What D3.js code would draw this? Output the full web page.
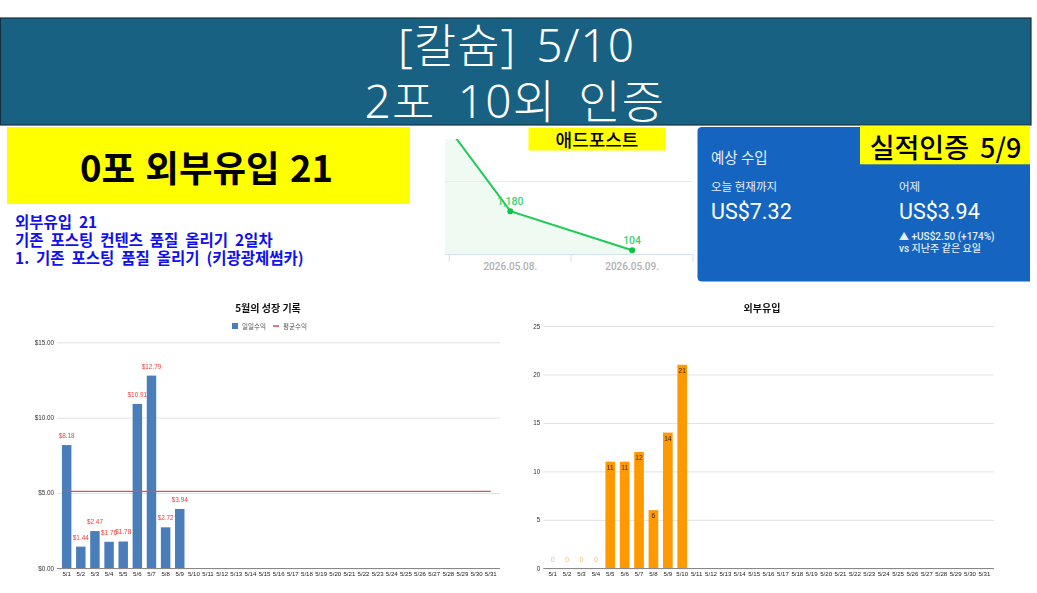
<!DOCTYPE html>
<html><head><meta charset="utf-8">
<script src="https://cdn.jsdelivr.net/npm/d3@7"></script>
<style>html,body{margin:0;padding:0;background:#fff;overflow:hidden}svg{display:block}
text{font-family:"Noto Sans CJK KR","Noto Sans",sans-serif}
.num{font-family:Roboto,"Noto Sans CJK KR",sans-serif}
.lat{font-family:"Liberation Sans","Noto Sans CJK KR",sans-serif}
.hd{font-family:"Noto Sans","Noto Sans CJK KR",sans-serif}</style>
</head><body><svg id="c" width="1037" height="593"></svg>
<script>
const headerLines = ["[칼슘] 5/10", "2포 10외 인증"];
const bannerText = "0포 외부유입 21";
const noteLines = ["외부유입 21", "기존 포스팅 컨텐츠 품질 올리기 2일차", "1. 기존 포스팅 품질 올리기 (키광광제썸카)"];
const adDates = ["2026.05.07.", "2026.05.08.", "2026.05.09."];
const adValues = [5700, 1180, 104];
const adTicks = [0, 2000];
const days = d3.range(1, 32).map(d => "5/" + d);
const incomeValues = [8.18, 1.44, 2.47, 1.76, 1.78, 10.91, 12.79, 2.72, 3.94];
const incomeAverage = 5.11;
const incomeTicks = [0, 5, 10, 15];
const trafficValues = [0, 0, 0, 0, 11, 11, 12, 6, 14, 21];
const trafficTicks = [0, 5, 10, 15, 20, 25];

const svg = d3.select("#c");
const defs = svg.append("defs");
defs.append("filter").attr("id","soft").attr("x","-5%").attr("y","-5%").attr("width","110%").attr("height","110%")
  .append("feGaussianBlur").attr("stdDeviation",0.35);
defs.append("clipPath").attr("id","adClip").append("rect").attr("x",445).attr("y",139).attr("width",248).attr("height",116);

function txt(g,x,y,s,size,fill,weight,anchor,cls){
  return g.append("text").attr("x",x).attr("y",y).attr("font-size",size).attr("fill",fill)
   .attr("font-weight",weight||400).attr("text-anchor",anchor||"start").attr("dominant-baseline","central")
   .attr("class",cls||null).text(s);
}
// header
svg.append("rect").attr("x",0.5).attr("y",18).attr("width",1030.5).attr("height",107)
  .attr("fill","#196182").attr("stroke","#16323f").attr("stroke-width",1.2);
txt(svg,516.5,44,headerLines[0],46,"#fff",300,"middle","hd").attr("word-spacing",7).attr("letter-spacing",1);
txt(svg,515,100,headerLines[1],46,"#fff",300,"middle","hd").attr("word-spacing",9).attr("letter-spacing",1.2);
// banner
svg.append("rect").attr("x",7).attr("y",127).attr("width",403).attr("height",77).attr("fill","#ffff00");
txt(svg,206.5,166,bannerText,36.5,"#000",700,"middle").attr("word-spacing",2);
noteLines.forEach((s,i)=>txt(svg,15,221+i*18,s,15.5,"#1010ee",700).attr("word-spacing",3.4));

// ad chart
(function(){
  const g = svg.append("g");
  const x = d3.scaleBand().domain(adDates).range([327.7,693]);
  const y = d3.scaleLinear().domain([0,2000]).range([254,181.5]);
  const cx = d => x(d)+x.bandwidth()/2;
  const pts = adDates.map((d,i)=>[cx(d),y(adValues[i])]);
  const clip = g.append("g").attr("clip-path","url(#adClip)");
  clip.append("path").attr("d",d3.area().x(p=>p[0]).y0(y(0)).y1(p=>p[1])(pts)).attr("fill","#eefaf2");
  adTicks.slice(1).forEach(t=>clip.append("line").attr("x1",445).attr("x2",693).attr("y1",y(t)).attr("y2",y(t)).attr("stroke","#e8ecee").attr("stroke-width",1));
  clip.append("path").attr("d",d3.line()(pts)).attr("fill","none").attr("stroke","#1fcb55").attr("stroke-width",2);
  g.append("line").attr("x1",445).attr("x2",693).attr("y1",254.5).attr("y2",254.5).attr("stroke","#d5e0f2").attr("stroke-width",1);
  [449.3,571,693].forEach(v=>g.append("line").attr("x1",v).attr("x2",v).attr("y1",254).attr("y2",262).attr("stroke","#d5e0f2"));
  adDates.slice(1).forEach((d,i)=>{
    g.append("circle").attr("cx",cx(d)).attr("cy",y(adValues[i+1])).attr("r",3).attr("fill","#0cc444");
    txt(g,cx(d),y(adValues[i+1])-10,d3.format(",")(adValues[i+1]),10.5,"#3fd070",500,"middle","num");
    txt(g,cx(d),266,d,10,"#b0b0b0",500,"middle","num");
  });
  svg.append("rect").attr("x",528.5).attr("y",127.5).attr("width",137).attr("height",23).attr("fill","#ffff00");
  txt(svg,597,139,"애드포스트",18,"#000",500,"middle");
})();

// revenue card
(function(){
  const g = svg.append("g");
  g.append("path").attr("d","M702,127H1030V281.5H702Q697.5,281.5 697.5,277V131.5Q697.5,127 702,127Z").attr("fill","#1565c0");
  txt(g,711,156,"예상 수입",14.5,"#e6eefa",400);
  txt(g,711,186,"오늘 현재까지",11.5,"#e6eefa",400);
  txt(g,899,186,"어제",11.5,"#e6eefa",400);
  txt(g,711,211,"US$7.32",21.5,"#fff",400,"start","num");
  txt(g,899,211,"US$3.94",21.5,"#fff",400,"start","num");
  txt(g,899,236,"▲ +US$2.50 (+174%)",10,"#e6eefa",500,"start","num");
  txt(g,899,248,"vs 지난주 같은 요일",10,"#e6eefa",500,"start","num");
  svg.append("rect").attr("x",860).attr("y",125.7).attr("width",170).attr("height",38.6).attr("fill","#ffff00");
  txt(svg,945.5,146,"실적인증 5/9",27,"#000",500,"middle").attr("word-spacing",5);
})();

// income chart
(function(){
  const g = svg.append("g").attr("filter","url(#soft)");
  const x = d3.scaleBand().domain(days).range([59.6,497.8]).paddingInner(0.33).paddingOuter(0.165);
  const y = d3.scaleLinear().domain([0,15]).range([568.3,342.3]);
  const cx = d => x(d)+x.bandwidth()/2;
  const yA = d3.axisLeft(y).tickValues(incomeTicks).tickSize(-443).tickPadding(3).tickFormat(d3.format("$.2f"));
  const ya = g.append("g").attr("transform","translate(57,0)").call(yA);
  ya.select(".domain").remove();
  ya.selectAll("line").attr("stroke","#e2e2e2");
  ya.selectAll("text").attr("font-size",6.3).attr("fill","#333").attr("class","lat");
  g.selectAll(".b").data(incomeValues).join("rect").attr("x",(d,i)=>x(days[i])).attr("width",x.bandwidth())
    .attr("y",d=>y(d)).attr("height",d=>y(0)-y(d)).attr("fill","#4a7ebb");
  g.append("line").attr("x1",cx(days[0])).attr("x2",cx(days[30])).attr("y1",y(incomeAverage)).attr("y2",y(incomeAverage)).attr("stroke","#d9534f").attr("stroke-width",1.2);
  const xa = g.append("g").attr("transform","translate(0,568.5)").call(d3.axisBottom(x).tickSize(0).tickPadding(3));
  xa.select(".domain").attr("d","M57,0H500").attr("stroke","#888");
  xa.selectAll("text").attr("font-size",6.1).attr("fill","#222").attr("class","lat");
  incomeValues.forEach((v,i)=>txt(g,cx(days[i]),y(v)-9.5,d3.format("$.2f")(v),6.4,"#f23c3c",400,"middle","lat"));
  txt(g,268,307,"5월의 성장 기록",10,"#111",700,"middle");
  g.append("rect").attr("x",232).attr("y",323).attr("width",6).attr("height",6).attr("fill","#4a7ebb");
  txt(g,242,326,"일일수익",6.5,"#555");
  g.append("line").attr("x1",273).attr("x2",279).attr("y1",326).attr("y2",326).attr("stroke","#d9534f").attr("stroke-width",1.6);
  txt(g,283,326,"평균수익",6.5,"#555");
})();

// traffic chart
(function(){
  const g = svg.append("g").attr("filter","url(#soft)");
  const x = d3.scaleBand().domain(days).range([545.5,991.6]).paddingInner(0.33).paddingOuter(0.165);
  const y = d3.scaleLinear().domain([0,25]).range([568.3,326]);
  const cx = d => x(d)+x.bandwidth()/2;
  const yA = d3.axisLeft(y).tickValues(trafficTicks).tickSize(-450.7).tickPadding(3);
  const ya = g.append("g").attr("transform","translate(543.3,0)").call(yA);
  ya.select(".domain").remove();
  ya.selectAll("line").attr("stroke","#e2e2e2");
  ya.selectAll("text").attr("font-size",6.3).attr("fill","#333").attr("class","lat");
  g.selectAll(".b").data(trafficValues).join("rect").attr("x",(d,i)=>x(days[i])).attr("width",x.bandwidth())
    .attr("y",d=>y(d)).attr("height",d=>y(0)-y(d)).attr("fill","#ff9900");
  const xa = g.append("g").attr("transform","translate(0,568.5)").call(d3.axisBottom(x).tickSize(0).tickPadding(3));
  xa.select(".domain").attr("d","M543.3,0H994").attr("stroke","#888");
  xa.selectAll("text").attr("font-size",6.1).attr("fill","#222").attr("class","lat");
  trafficValues.forEach((v,i)=>{
    if(v===0) txt(g,cx(days[i]),559,v,7,"#ffb860",400,"middle","lat");
    else txt(g,cx(days[i]),y(v)+5.7,v,6.6,"#3a2500",400,"middle","lat");
  });
  txt(g,762,307,"외부유입",10,"#111",700,"middle");
})();
</script></body></html>
